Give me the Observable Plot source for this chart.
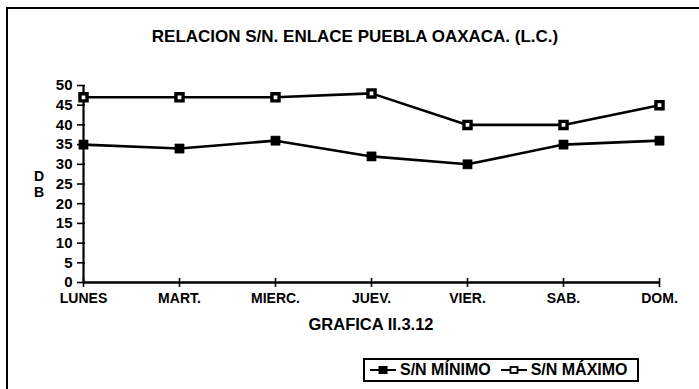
<!DOCTYPE html>
<html>
<head>
<meta charset="utf-8">
<script src="https://cdn.jsdelivr.net/npm/d3@7"></script>
<script src="https://cdn.jsdelivr.net/npm/@observablehq/plot@0.6"></script>
<style>
  html, body { margin: 0; padding: 0; background: #fff; }
  #page { position: relative; width: 699px; height: 389px; overflow: hidden; background: #fff;
          font-family: "Liberation Sans", Arial, Helvetica, sans-serif; font-weight: bold; color: #000; }
  #frame { position: absolute; left: 6px; top: 7px; width: 700px; height: 400px;
           border-left: 2px solid #000; border-top: 2px solid #000; box-sizing: border-box; }
  #chart { position: absolute; left: 0; top: 0; }
  .lbl { position: absolute; white-space: nowrap; line-height: 1; }
  #title { left: 355px; top: 28px; font-size: 17px; transform: translateX(-50%); }
  #caption { left: 371px; top: 316px; font-size: 16.5px; transform: translateX(-50%); }
  #ylab { left: 33px; top: 168px; font-size: 14px; line-height: 16px; text-align: center; width: 12px; }
  #legend { position: absolute; left: 363px; top: 358px; width: 276px; height: 24px; box-sizing: border-box;
            border: 2px solid #000; display: flex; align-items: center; padding-left: 4px; font-size: 16px; white-space: nowrap; }
  #legend .item { display: flex; align-items: center; margin-right: 9px; }
  #legend svg { margin-right: 3px; }
</style>
</head>
<body>
<div id="page">
  <div id="frame"></div>
  <div id="chart"></div>
  <div class="lbl" id="title">RELACION S/N. ENLACE PUEBLA OAXACA. (L.C.)</div>
  <div class="lbl" id="ylab">D<br>B</div>
  <div class="lbl" id="caption">GRAFICA II.3.12</div>
  <div id="legend"></div>
</div>
<script>
// ---- data ----
const days = ["LUNES", "MART.", "MIERC.", "JUEV.", "VIER.", "SAB.", "DOM."];
const snMin = [35, 34, 36, 32, 30, 35, 36];
const snMax = [47, 47, 47, 48, 40, 40, 45];
const yTicks = [0, 5, 10, 15, 20, 25, 30, 35, 40, 45, 50];
const seriesNames = ["S/N MÍNIMO", "S/N MÁXIMO"];

const rowsMin = days.map((d, i) => ({day: d, value: snMin[i]}));
const rowsMax = days.map((d, i) => ({day: d, value: snMax[i]}));

const chart = Plot.plot({
  width: 699,
  height: 389,
  marginLeft: 81,
  marginRight: 39,
  marginTop: 85,
  marginBottom: 107,
  style: "background: transparent; overflow: visible; font-family: 'Liberation Sans', Arial, sans-serif; font-weight: bold; color: #000;",
  x: {type: "point", domain: days, padding: 0},
  y: {domain: [0, 50]},
  marks: [
    Plot.axisY({ticks: yTicks, tickSize: 8, dx: 4, tickPadding: 5, fontSize: 15, fontWeight: "bold", strokeWidth: 1.6, label: null}),
    Plot.axisX({tickSize: 9, dy: -4, tickPadding: 6, fontSize: 14, fontWeight: "bold", strokeWidth: 1.6, label: null}),
    Plot.ruleX([days[0]], {x: d => d, y1: () => 0, y2: () => 50, strokeWidth: 2.2}),
    Plot.ruleY([0], {y: d => d, x1: () => days[0], x2: () => days[days.length - 1], strokeWidth: 2.4}),
    Plot.line(rowsMax, {x: "day", y: "value", stroke: "#000", strokeWidth: 2.6}),
    Plot.line(rowsMin, {x: "day", y: "value", stroke: "#000", strokeWidth: 2.6}),
    Plot.dot(rowsMax, {x: "day", y: "value", symbol: "square", r: 4, fill: "#fff", stroke: "#000", strokeWidth: 3.4}),
    Plot.dot(rowsMin, {x: "day", y: "value", symbol: "square", r: 5.2, fill: "#000", stroke: "#000", strokeWidth: 0.5})
  ]
});
document.getElementById("chart").appendChild(chart);

// legend
const legend = document.getElementById("legend");
seriesNames.forEach((name, i) => {
  const item = document.createElement("div");
  item.className = "item";
  const filled = i === 0;
  item.innerHTML =
    `<svg width="28" height="12" viewBox="0 0 28 12">
       <line x1="1" y1="6" x2="27" y2="6" stroke="#000" stroke-width="2"/>
       ${filled
         ? '<rect x="9.5" y="2" width="9" height="8" fill="#000"/>'
         : '<rect x="10.5" y="3" width="7" height="6" fill="#fff" stroke="#000" stroke-width="1.8"/>'}
     </svg><span>${name}</span>`;
  legend.appendChild(item);
});
</script>
</body>
</html>
